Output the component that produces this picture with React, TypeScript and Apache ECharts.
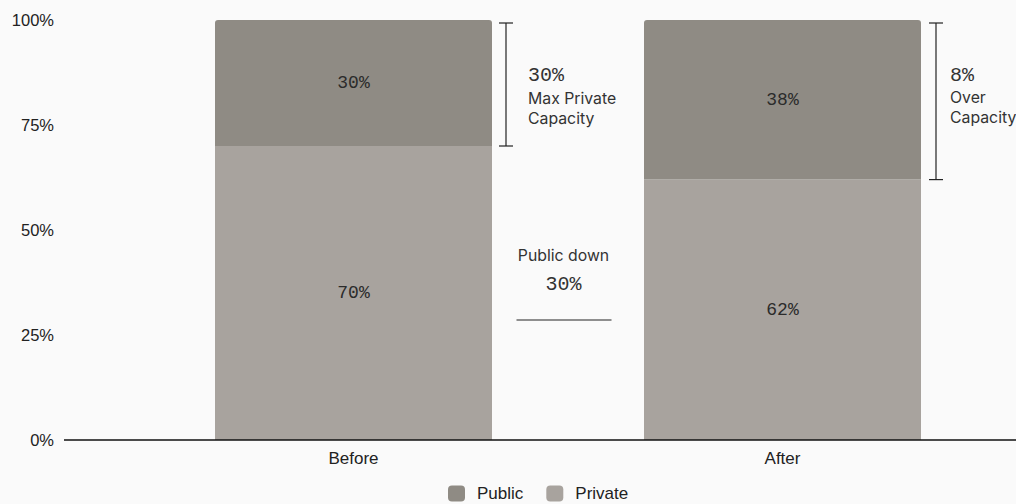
import React, { useEffect, useRef } from "react";
import * as echarts from "echarts";

const categories = ["Before", "After"];
const publicValues = [30, 38];
const privateValues = [70, 62];
const yTicks = [0, 25, 50, 75, 100];

const PUBLIC_COLOR = "#8f8b84";
const PRIVATE_COLOR = "#a8a39e";
const MONO = "'Liberation Mono', 'DejaVu Sans Mono', monospace";
const SANS = "'Liberation Sans', Arial, sans-serif";
const INTER = "Inter, 'Noto Sans', sans-serif";

export default function App() {
  const ref = useRef<HTMLDivElement>(null);
  useEffect(() => {
    if (!ref.current) return;
    const chart = echarts.init(ref.current, null, { renderer: "svg" });
    const option: any = {
      animation: false,
      backgroundColor: "#fafafa",
      grid: { left: 139, right: 19, top: 20, bottom: 64 },
      legend: {
        left: 448,
        top: 485,
        itemWidth: 17,
        itemHeight: 16,
        itemGap: 23,
        icon: "roundRect",
        padding: 0,
        textStyle: {
          fontFamily: SANS,
          fontSize: 17,
          lineHeight: 17,
          color: "#222",
          padding: [0, 0, 0, 7],
        },
        data: ["Public", "Private"],
      },
      xAxis: {
        type: "category",
        data: categories,
        axisLine: { show: false },
        axisTick: { show: false },
        axisLabel: { fontFamily: SANS, fontSize: 17, color: "#222", margin: 10 },
      },
      yAxis: {
        type: "value",
        min: yTicks[0],
        max: yTicks[yTicks.length - 1],
        interval: 25,
        splitLine: { show: false },
        axisLine: { show: false },
        axisTick: { show: false },
        axisLabel: {
          formatter: "{value}%",
          fontFamily: SANS,
          fontSize: 16.5,
          color: "#222",
          margin: 85,
        },
      },
      series: [
        {
          name: "Private",
          type: "bar",
          stack: "total",
          data: privateValues,
          barWidth: 277,
          itemStyle: { color: PRIVATE_COLOR },
          label: {
            show: true,
            position: "inside",
            formatter: "{c}%",
            fontFamily: MONO,
            fontSize: 18,
            color: "#2b2b2b",
          },
        },
        {
          name: "Public",
          type: "bar",
          stack: "total",
          data: publicValues,
          barWidth: 277,
          itemStyle: { color: PUBLIC_COLOR, borderRadius: [3, 3, 0, 0] },
          label: {
            show: true,
            position: "inside",
            formatter: "{c}%",
            fontFamily: MONO,
            fontSize: 18,
            color: "#2b2b2b",
          },
        },
      ],
    };
    chart.setOption(option);

    const yTop = chart.convertToPixel({ gridIndex: 0 }, [0, 100])[1];
    const yZero = chart.convertToPixel({ gridIndex: 0 }, [0, 0])[1];
    const x0 = chart.convertToPixel({ gridIndex: 0 }, [0, 0])[0];
    const x1 = chart.convertToPixel({ gridIndex: 0 }, [1, 0])[0];
    const half = 277 / 2;
    const yB = chart.convertToPixel({ gridIndex: 0 }, [0, privateValues[0]])[1];
    const yA = chart.convertToPixel({ gridIndex: 0 }, [1, privateValues[1]])[1];
    const lineStyle = { stroke: "#222", lineWidth: 1.2 };

    const bracket = (x: number, ya: number, yb: number) => [
      { type: "line", shape: { x1: x, y1: ya, x2: x, y2: yb }, style: lineStyle },
      { type: "line", shape: { x1: x - 7, y1: ya, x2: x + 7, y2: ya }, style: lineStyle },
      { type: "line", shape: { x1: x - 7, y1: yb, x2: x + 7, y2: yb }, style: lineStyle },
    ];
    const bxB = x0 + half + 14;
    const bxA = x1 + half + 15;
    const midX = (x0 + half + x1 - half) / 2 - 4.5;

    chart.setOption({
      graphic: [
        { type: "line", shape: { x1: 64, y1: yZero, x2: 1016, y2: yZero }, style: { stroke: "#111", lineWidth: 1.5 }, z: 10 },
        ...bracket(bxB, yTop + 3, yB),
        ...bracket(bxA, yTop + 3, yA),
        { type: "text", x: bxB + 22, y: 75, style: { text: "30%", font: `20px ${MONO}`, fill: "#333", verticalAlign: "middle" } },
        { type: "text", x: bxB + 22, y: 98, style: { text: "Max Private", font: `15.8px ${INTER}`, fill: "#333", verticalAlign: "middle" } },
        { type: "text", x: bxB + 22, y: 118, style: { text: "Capacity", font: `15.8px ${INTER}`, fill: "#333", verticalAlign: "middle" } },
        { type: "text", x: bxA + 14, y: 75, style: { text: "8%", font: `20px ${MONO}`, fill: "#333", verticalAlign: "middle" } },
        { type: "text", x: bxA + 14, y: 97, style: { text: "Over", font: `15.8px ${INTER}`, fill: "#333", verticalAlign: "middle" } },
        { type: "text", x: bxA + 14, y: 117, style: { text: "Capacity", font: `15.8px ${INTER}`, fill: "#333", verticalAlign: "middle" } },
        { type: "text", x: midX, y: 255, style: { text: "Public down", font: `15.8px ${INTER}`, fill: "#333", align: "center", verticalAlign: "middle" } },
        { type: "text", x: midX, y: 284, style: { text: "30%", font: `20px ${MONO}`, fill: "#333", align: "center", verticalAlign: "middle" } },
        { type: "line", shape: { x1: midX - 47, y1: 320, x2: midX + 48, y2: 320 }, style: { stroke: "#222", lineWidth: 1.2 } },
      ],
    });

    return () => chart.dispose();
  }, []);
  return <div ref={ref} style={{ width: 1016, height: 504, position: "absolute", left: 0, top: 0 }} />;
}
